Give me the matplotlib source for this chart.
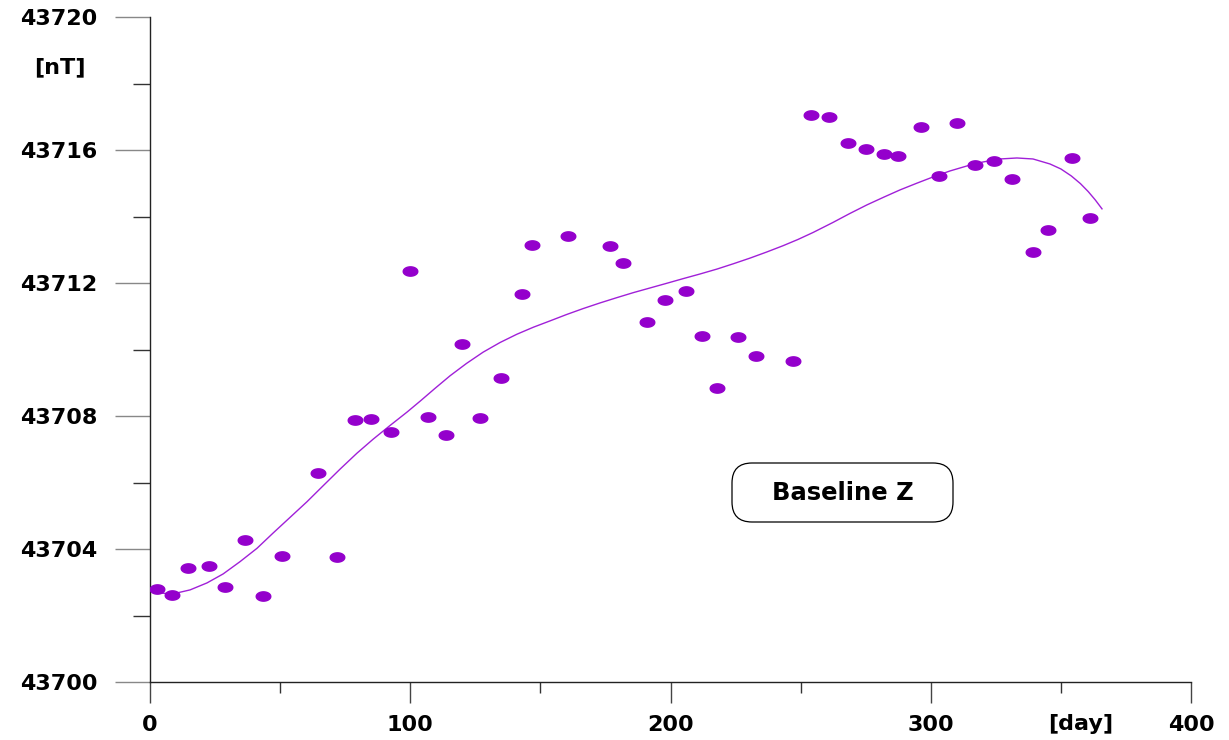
import numpy as np
import matplotlib
matplotlib.use("Agg")
import matplotlib.pyplot as plt
from matplotlib.path import Path
from matplotlib.patches import FancyBboxPatch
from matplotlib.ticker import MultipleLocator, FormatStrFormatter

# daily baseline values (day, nT)
obs_day = [2.7, 8.5, 14.6, 22.7, 28.8, 36.5, 43.4, 50.7, 64.6, 71.9, 78.8, 84.9,
           92.6, 99.9, 106.8, 113.7, 119.9, 126.8, 134.9, 142.9, 146.8, 160.6,
           176.8, 181.7, 191.0, 197.9, 206.0, 212.1, 217.9, 225.9, 232.9, 247.1,
           254.0, 260.9, 268.2, 275.1, 282.0, 287.4, 296.3, 303.2, 310.1, 317.0,
           324.3, 331.2, 339.3, 345.0, 354.3, 361.2]
obs_nt = [43702.80, 43702.62, 43703.43, 43703.49, 43702.86, 43704.27, 43702.59,
          43703.79, 43706.29, 43703.76, 43707.88, 43707.91, 43707.52, 43712.36,
          43707.97, 43707.43, 43710.17, 43707.94, 43709.14, 43711.67, 43713.14,
          43713.41, 43713.11, 43712.60, 43710.83, 43711.49, 43711.76, 43710.41,
          43708.84, 43710.38, 43709.80, 43709.65, 43717.05, 43716.99, 43716.21,
          43716.03, 43715.88, 43715.82, 43716.69, 43715.22, 43716.81, 43715.55,
          43715.67, 43715.13, 43712.93, 43713.59, 43715.76, 43713.95]

# fitted baseline curve
fit_day = [3.1, 8.8, 15.4, 21.9, 28.1, 34.6, 41.1, 47.3, 53.8, 60.3, 66.5, 73.0,
           79.5, 85.7, 92.0, 98.8, 104.0, 109.5, 115.3, 121.6, 128.0, 134.5,
           141.0, 147.3, 153.7, 160.0, 166.4, 172.9, 179.4, 185.7, 192.1, 198.5,
           204.8, 211.3, 217.9, 224.2, 230.6, 236.9, 243.2, 249.0, 254.8, 262.4,
           268.9, 275.5, 281.9, 288.2, 294.6, 300.9, 307.4, 313.9, 320.1, 326.6,
           333.1, 339.3, 345.8, 350.0, 354.0, 357.5, 360.5, 363.2, 365.8]
fit_nt = [43702.68, 43702.65, 43702.77, 43702.98, 43703.25, 43703.62, 43704.02,
          43704.48, 43704.95, 43705.42, 43705.90, 43706.40, 43706.88, 43707.30,
          43707.70, 43708.12, 43708.46, 43708.83, 43709.21, 43709.58, 43709.92,
          43710.21, 43710.46, 43710.67, 43710.86, 43711.05, 43711.23, 43711.40,
          43711.56, 43711.71, 43711.85, 43711.99, 43712.13, 43712.27, 43712.42,
          43712.58, 43712.75, 43712.93, 43713.12, 43713.31, 43713.52, 43713.82,
          43714.09, 43714.35, 43714.58, 43714.80, 43715.00, 43715.19, 43715.37,
          43715.52, 43715.64, 43715.73, 43715.76, 43715.73, 43715.58, 43715.43,
          43715.22, 43714.99, 43714.75, 43714.50, 43714.23]

PURPLE = "#9400CC"
LINE = "#A020D8"

plt.rcParams["font.family"] = ["DejaVu Sans"]
plt.rcParams["font.weight"] = "bold"

t = np.linspace(0, 2 * np.pi, 40)
ellipse = Path(np.column_stack([np.cos(t), 0.64 * np.sin(t)]), closed=True)

fig = plt.figure(figsize=(12.29, 7.40), dpi=100)
ax = fig.add_axes([150 / 1229, 58 / 740, 1041 / 1229, 665 / 740])

ax.plot(fit_day, fit_nt, color=LINE, lw=1.0, zorder=2)
ax.plot(obs_day, obs_nt, ls="none", marker=ellipse, ms=10.5, color=PURPLE,
        mec=PURPLE, zorder=3)

ax.set_xlim(0, 400)
ax.set_ylim(43700, 43720)
for s in ("top", "right"):
    ax.spines[s].set_visible(False)
for s in ("left", "bottom"):
    ax.spines[s].set_color("#222222")
    ax.spines[s].set_linewidth(1.0)

ax.xaxis.set_major_locator(MultipleLocator(100))
ax.xaxis.set_minor_locator(MultipleLocator(50))
ax.yaxis.set_major_locator(MultipleLocator(4))
ax.yaxis.set_minor_locator(MultipleLocator(2))
ax.tick_params(axis="y", which="major", length=25, width=1.0, color="#888888",
               pad=13, labelsize=16)
ax.tick_params(axis="y", which="minor", length=12, width=1.0, color="#333333")
ax.tick_params(axis="x", which="major", length=15, width=1.0, color="#444444",
               pad=9, labelsize=16)
ax.tick_params(axis="x", which="minor", length=8, width=1.0, color="#333333")
ax.yaxis.set_major_formatter(FormatStrFormatter("%d"))
for lab in ax.get_xticklabels() + ax.get_yticklabels():
    lab.set_fontweight("bold")

ax.text(-34.6, 43718.5, "[nT]", ha="center", va="center", fontsize=16,
        fontweight="bold", clip_on=False)
ax.text(357.8, 43698.75, "[day]", ha="center", va="center", fontsize=16,
        fontweight="bold", clip_on=False)

# label box (inches on the figure)
box = FancyBboxPatch((7.32 + 0.2, 2.18 + 0.2), 2.21 - 0.4, 0.59 - 0.4,
                     boxstyle="round,pad=0.2", transform=fig.dpi_scale_trans,
                     fc="white", ec="black", lw=0.9, zorder=4)
fig.patches.append(box)
fig.text(8.425 / 12.29, (7.40 - 4.93) / 7.40, "Baseline Z", ha="center",
         va="center", fontsize=17.5, fontweight="bold", zorder=5)

fig.savefig("out.png", dpi=100, facecolor="white")
